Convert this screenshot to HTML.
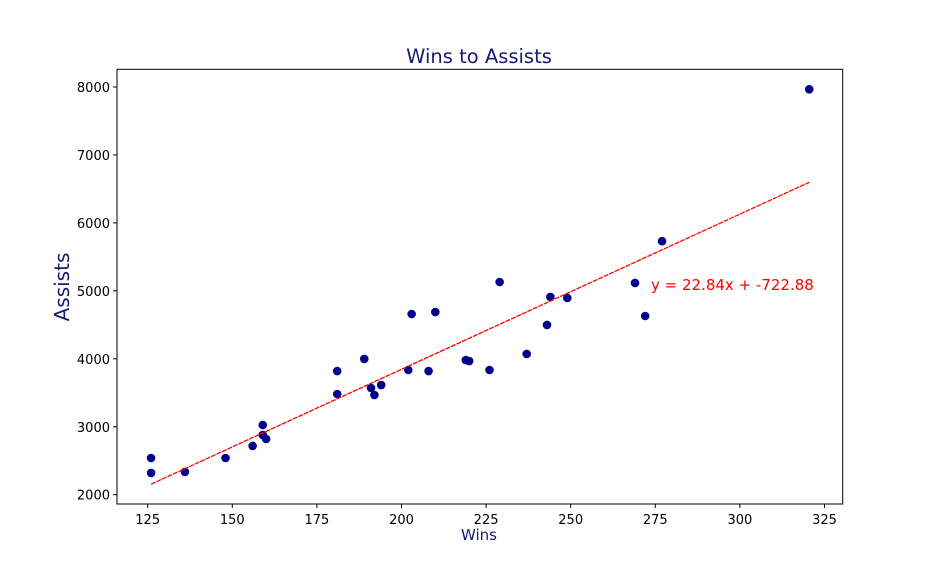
<!DOCTYPE html>
<html><head><meta charset="utf-8"><style>
body{margin:0;background:#fff;font-family:"DejaVu Sans","Liberation Sans",sans-serif}
</style></head><body>
<svg id="chart" width="936" height="576" xmlns="http://www.w3.org/2000/svg" font-family="DejaVu Sans, Liberation Sans, sans-serif"></svg>
<script>
const wins=[126,126,136,148,156,159,159,160,181,181,189,191,192,194,202,203,208,210,219,220,226,229,237,243,244,249,269,272,277,320.5];
const assists=[2540,2320,2335,2540,2717,3026,2880,2820,3820,3482,3998,3570,3467,3614,3835,4659,3820,4688,3982,3967,3835,5130,4071,4498,4910,4895,5116,4630,5731,7966];
const xTicks=[125,150,175,200,225,250,275,300,325];
const yTicks=[2000,3000,4000,5000,6000,7000,8000];
const slope=[22.84];
const intercept=[-722.88];
const NS="http://www.w3.org/2000/svg";
const svg=document.getElementById('chart');
const L=117,R=842.7,T=69.3,B=504;
function xs(v){return 147.7+(v-125)*3.384;}
function ys(v){return 494.7-(v-2000)*0.06795;}
function mk(tag,attrs,parent){const e=document.createElementNS(NS,tag);for(const k in attrs)e.setAttribute(k,attrs[k]);(parent||svg).appendChild(e);return e;}
const title=mk('text',{x:479,y:63,'text-anchor':'middle','font-size':19.5,fill:'#191970'});title.textContent='Wins to Assists';


const frame=mk('rect',{x:L,y:T,width:R-L,height:B-T,fill:'none',stroke:'#000','stroke-width':1});


xTicks.forEach(t=>{const x=xs(t);
 mk('line',{x1:x,x2:x,y1:B,y2:B+4,stroke:'#000'});
 const tx=mk('text',{x:x,y:B+20,'text-anchor':'middle','font-size':13,fill:'#000'});tx.textContent=t;
 
 });
yTicks.forEach(t=>{const y=ys(t);
 mk('line',{x1:L-4,x2:L,y1:y,y2:y,stroke:'#000'});
 const tx=mk('text',{x:L-7,y:y+5,'text-anchor':'end','font-size':13,fill:'#000'});tx.textContent=t;
 
 });
const xl=mk('text',{x:479,y:540,'text-anchor':'middle','font-size':15,fill:'#191970'});xl.textContent='Wins';


const yl=mk('text',{x:69,y:287,'text-anchor':'middle','font-size':20,fill:'#191970',transform:'rotate(-90 69 287)'});yl.textContent='Assists';


wins.forEach((w,i)=>{const c=mk('circle',{cx:xs(w),cy:ys(assists[i]),r:4.3,fill:'#00008b'});
 
 });
const x0=Math.min(...wins),x1=Math.max(...wins);
const ln=mk('line',{x1:xs(x0),y1:ys(slope[0]*x0+intercept[0]),x2:xs(x1),y2:ys(slope[0]*x1+intercept[0]),stroke:'#ff0000','stroke-width':1.3,'stroke-dasharray':'5 1'});


const eq=mk('text',{x:651,y:290,'font-size':15,fill:'#ff0000'});eq.textContent='y = '+slope[0]+'x + '+intercept[0];


</script>
</body></html>
